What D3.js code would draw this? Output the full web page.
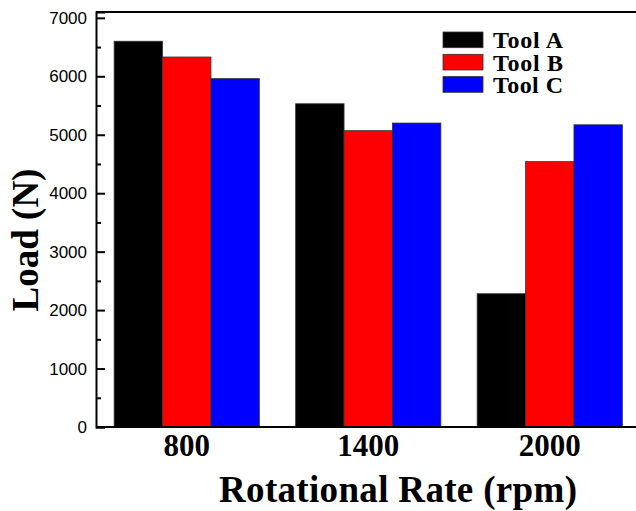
<html>
<head>
<script src="https://d3js.org/d3.v7.min.js"></script>
<style>
    body { margin: 0; background: #fff; }
</style>
</head>
<body>
<svg width="636" height="511"></svg>
<script>
// data
var rates = ["800", "1400", "2000"];
var tools = ["Tool A", "Tool B", "Tool C"];
var toolA = [6600, 5530, 2280];
var toolB = [6330, 5070, 4540];
var toolC = [5960, 5200, 5170];
var colors = ["#000000", "#ff0000", "#0000ff"];
var majorTicks = [0, 1000, 2000, 3000, 4000, 5000, 6000, 7000];
var minorTicks = [500, 1500, 2500, 3500, 4500, 5500, 6500];

var series = [toolA, toolB, toolC];

var plotLeft = 96, plotRight = 640.5, plotTop = 12, plotBottom = 427;

var svg = d3.select("svg");

var x = d3.scaleBand()
    .domain(rates)
    .range([plotLeft, plotRight])
    .paddingInner(0.2)
    .paddingOuter(0.1);

var xi = d3.scaleBand()
    .domain(tools)
    .range([0, x.bandwidth()]);

var y = d3.scaleLinear()
    .domain([0, 7100])
    .range([plotBottom, plotTop]);

// bars
var groups = svg.append("g").selectAll("g")
    .data(rates)
    .enter()
    .append("g")
    .attr("transform", function(d) { return "translate(" + x(d) + ",0)"; });

groups.selectAll("rect")
    .data(function(d, i) { return tools.map(function(t, j) { return {tool: t, j: j, v: series[j][i]}; }); })
    .enter()
    .append("rect")
    .attr("x", function(d) { return xi(d.tool); })
    .attr("width", xi.bandwidth())
    .attr("y", function(d) { return y(d.v); })
    .attr("height", function(d) { return y(0) - y(d.v); })
    .attr("fill", function(d) { return colors[d.j]; })
    .attr("stroke", "#333")
    .attr("stroke-width", 0.8);

// frame
svg.append("line").attr("x1", plotLeft).attr("x2", 640).attr("y1", plotTop).attr("y2", plotTop)
    .attr("stroke", "#000").attr("stroke-width", 2);
svg.append("line").attr("x1", plotLeft).attr("x2", 640).attr("y1", plotBottom).attr("y2", plotBottom)
    .attr("stroke", "#000").attr("stroke-width", 2);

// y axis
var yAxis = svg.append("g")
    .attr("transform", "translate(" + plotLeft + ",0)")
    .call(d3.axisLeft(y)
        .tickValues(majorTicks)
        .tickSize(-9)
        .tickPadding(9)
        .tickFormat(d3.format("d")));
yAxis.select(".domain").attr("stroke-width", 2);
yAxis.selectAll(".tick line").attr("stroke-width", 2);
yAxis.selectAll("text")
    .attr("font-family", "Liberation Sans, Arial, sans-serif")
    .attr("font-size", 17)
    .attr("fill", "#000");

var yMinor = svg.append("g")
    .attr("transform", "translate(" + plotLeft + ",0)")
    .call(d3.axisLeft(y)
        .tickValues(minorTicks)
        .tickSize(-5)
        .tickFormat(""));
yMinor.select(".domain").remove();
yMinor.selectAll(".tick line").attr("stroke-width", 2);

// x axis labels
var xAxis = svg.append("g")
    .attr("transform", "translate(0," + plotBottom + ")")
    .call(d3.axisBottom(x).tickSize(0).tickPadding(8));
xAxis.select(".domain").remove();
xAxis.selectAll("text")
    .attr("dy", null)
    .attr("y", 29)
    .attr("font-family", "Liberation Serif, Times New Roman, serif")
    .attr("font-weight", "bold")
    .attr("font-size", 31)
    .attr("fill", "#000");

// axis titles
svg.append("text")
    .attr("x", 398)
    .attr("y", 502)
    .attr("text-anchor", "middle")
    .attr("font-family", "Liberation Serif, Times New Roman, serif")
    .attr("font-weight", "bold")
    .attr("font-size", 37)
    .attr("textLength", 358)
    .text("Rotational Rate (rpm)");

svg.append("text")
    .attr("transform", "translate(38,240) rotate(-90)")
    .attr("text-anchor", "middle")
    .attr("font-family", "Liberation Serif, Times New Roman, serif")
    .attr("font-weight", "bold")
    .attr("font-size", 37)
    .text("Load (N)");

// legend
var legend = svg.append("g").selectAll("g")
    .data(tools)
    .enter()
    .append("g")
    .attr("transform", function(d, i) { return "translate(443," + (32 + i * 22.3) + ")"; });

legend.append("rect")
    .attr("width", 40)
    .attr("height", 15.7)
    .attr("fill", function(d, i) { return colors[i]; })
    .attr("stroke", "#333")
    .attr("stroke-width", 0.8);

legend.append("text")
    .attr("x", 50)
    .attr("y", 8)
    .attr("dy", "0.35em")
    .attr("font-family", "Liberation Serif, Times New Roman, serif")
    .attr("font-weight", "bold")
    .attr("font-size", 24)
    .attr("textLength", 70)
    .text(function(d) { return d; });
</script>
</body>
</html>
